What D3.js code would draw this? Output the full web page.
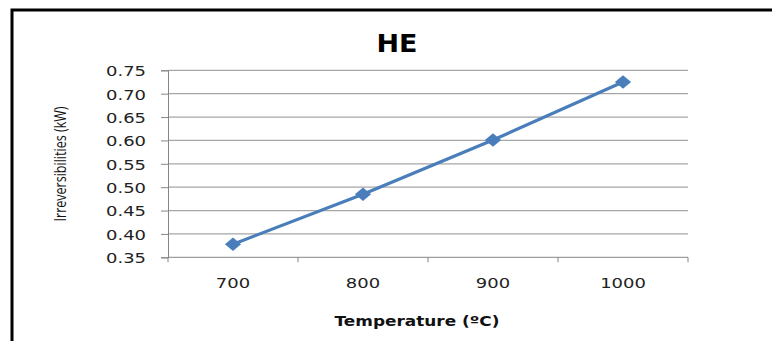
<!DOCTYPE html>
<html>
<head>
<meta charset="utf-8">
<script src="https://cdn.jsdelivr.net/npm/d3@7"></script>
<style>
  html, body { margin: 0; padding: 0; background: #fff; }
  svg { display: block; }
</style>
</head>
<body>
<svg id="chart" width="772" height="341"></svg>
<script>
// Irreversibilities of the heat exchanger (HE) versus temperature
const temperatures = ["700", "800", "900", "1000"];
const irreversibilities = [0.378, 0.485, 0.601, 0.725];
const yTicks = [0.35, 0.40, 0.45, 0.50, 0.55, 0.60, 0.65, 0.70, 0.75];

const chartTitle = "HE";
const xTitle = "Temperature (ºC)";
const yTitle = "Irreversibilities (kW)";

const W = 772, H = 341;
const plot = { left: 168, right: 688, top: 70.3, bottom: 257.3 };
const blue = "#4a7ebb";
const tickFont = "'DejaVu Sans', Verdana, sans-serif";

const svg = d3.select("#chart");

// stretch a text element horizontally to the wide look of the original export
function widen(sel, factor) {
  sel.each(function () {
    const len = this.getComputedTextLength();
    d3.select(this).attr("textLength", len * factor).attr("lengthAdjust", "spacingAndGlyphs");
  });
}
function fitTo(sel, width) {
  sel.attr("textLength", width).attr("lengthAdjust", "spacingAndGlyphs");
}

// outer frame (runs off the right and bottom edges)
svg.append("rect")
  .attr("x", 12).attr("y", 10)
  .attr("width", W + 20).attr("height", H + 20)
  .attr("fill", "#fff").attr("stroke", "#000").attr("stroke-width", 3);

const x = d3.scaleBand().domain(temperatures).range([plot.left, plot.right]).padding(0);
const y = d3.scaleLinear().domain([0.35, 0.75]).range([plot.bottom, plot.top]);

// horizontal gridlines
svg.append("g")
  .selectAll("line")
  .data(yTicks.filter(v => v > 0.35))
  .join("line")
  .attr("x1", plot.left).attr("x2", plot.right)
  .attr("y1", d => y(d)).attr("y2", d => y(d))
  .attr("stroke", "#a6a6a6").attr("stroke-width", 1.2);

// y axis
const yAxis = svg.append("g")
  .attr("transform", `translate(${plot.left},0)`)
  .call(d3.axisLeft(y).tickValues(yTicks).tickFormat(d3.format(".2f")).tickSizeOuter(0).tickSize(7).tickPadding(15));
yAxis.select(".domain").attr("stroke", "#868686");
yAxis.selectAll(".tick line").attr("stroke", "#868686");
yAxis.selectAll(".tick text")
  .attr("fill", "#222").attr("font-family", tickFont).attr("font-size", 13.5)
  .attr("dy", "0.4em")
  .call(widen, 1.33);

// x axis: ticks between categories, labels at category centres
const xAxisG = svg.append("g").attr("transform", `translate(0,${plot.bottom})`);
xAxisG.append("line")
  .attr("x1", plot.left).attr("x2", plot.right)
  .attr("y1", 0).attr("y2", 0)
  .attr("stroke", "#868686");
const bounds = temperatures.map(t => x(t)).concat([x(temperatures[temperatures.length - 1]) + x.bandwidth()]);
xAxisG.selectAll("line.tk")
  .data(bounds)
  .join("line").attr("class", "tk")
  .attr("x1", d => d).attr("x2", d => d)
  .attr("y1", 0).attr("y2", 5)
  .attr("stroke", "#868686");
xAxisG.selectAll("text")
  .data(temperatures)
  .join("text")
  .attr("x", d => x(d) + x.bandwidth() / 2)
  .attr("y", 31)
  .attr("text-anchor", "middle")
  .attr("fill", "#222").attr("font-family", tickFont).attr("font-size", 13.5)
  .text(d => d)
  .call(widen, 1.33);

// series line and diamond markers
const pts = temperatures.map((t, i) => [x(t) + x.bandwidth() / 2, y(irreversibilities[i])]);
svg.append("path")
  .attr("d", d3.line()(pts))
  .attr("fill", "none").attr("stroke", blue).attr("stroke-width", 3.2);
svg.append("g")
  .selectAll("path")
  .data(pts)
  .join("path")
  .attr("transform", d => `translate(${d[0]},${d[1]}) scale(1.2,1)`)
  .attr("d", d3.symbol(d3.symbolDiamond2, 115))
  .attr("fill", blue);

// titles
svg.append("text")
  .attr("x", 397).attr("y", 52)
  .attr("text-anchor", "middle")
  .attr("font-family", tickFont).attr("font-weight", "bold").attr("font-size", 24.5)
  .attr("fill", "#000")
  .text(chartTitle)
  .call(fitTo, 41);

svg.append("text")
  .attr("x", 417).attr("y", 326)
  .attr("text-anchor", "middle")
  .attr("font-family", tickFont).attr("font-weight", "bold").attr("font-size", 13.5)
  .attr("fill", "#111")
  .text(xTitle)
  .call(fitTo, 165);

svg.append("text")
  .attr("transform", "translate(65.5,164) rotate(-90)")
  .attr("text-anchor", "middle")
  .attr("font-family", "'Open Sans', 'Noto Sans', sans-serif").attr("font-size", 15.5)
  .attr("fill", "#111")
  .text(yTitle)
  .call(fitTo, 115);
</script>
</body>
</html>
